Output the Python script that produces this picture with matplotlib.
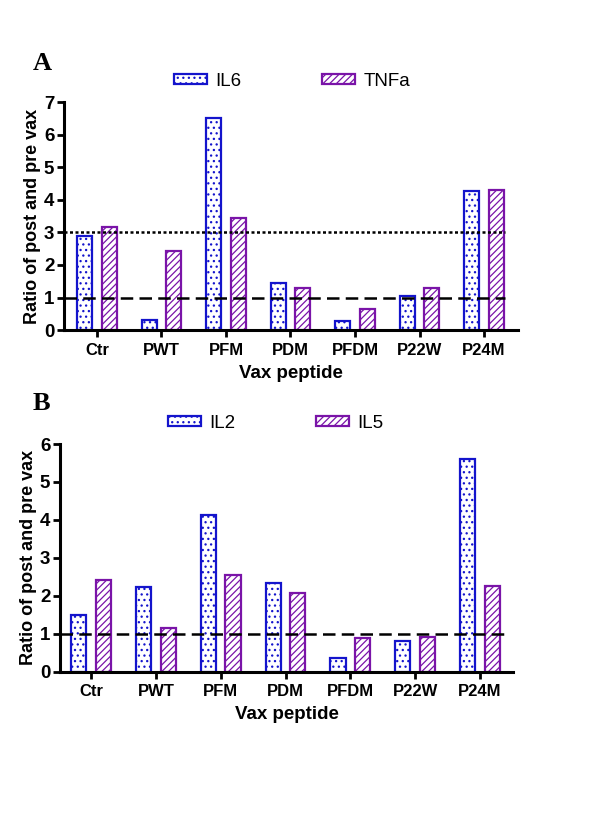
import numpy as np
import matplotlib
matplotlib.use('Agg')
from matplotlib import pyplot as plt

peptides = ['Ctr', 'PWT', 'PFM', 'PDM', 'PFDM', 'P22W', 'P24M']

# panel A
il6 = [2.88, 0.31, 6.51, 1.45, 0.29, 1.05, 4.26]
tnfa = [3.17, 2.43, 3.44, 1.30, 0.64, 1.28, 4.30]

# panel B
il2 = [1.50, 2.23, 4.13, 2.33, 0.35, 0.82, 5.61]
il5 = [2.42, 1.14, 2.54, 2.08, 0.88, 0.91, 2.27]

BLUE = '#1414cc'
PURPLE = '#7a14a8'

plt.rcParams['font.family'] = ['Liberation Sans', 'DejaVu Sans']
plt.rcParams['hatch.linewidth'] = 0.9

fig = plt.figure(figsize=(6, 8.4), dpi=100)


def panel(ax, s1, s2, names, ymax, xlim, lines, letter, letter_y, leg_y, leg_x):
    x = np.arange(len(peptides))
    w = 0.235
    b1 = ax.bar(x - 0.19, s1, w, facecolor='white', edgecolor=BLUE, hatch='...',
                linewidth=1.6, label=names[0], zorder=2)
    b2 = ax.bar(x + 0.19, s2, w, facecolor='white', edgecolor=PURPLE, hatch='/////',
                linewidth=1.6, label=names[1], zorder=2)
    for yv, ls, xend in lines:
        ax.plot([xlim[0], xend], [yv, yv], color='black', linestyle=ls, lw=1.8, zorder=3)
    ax.set_xlim(*xlim)
    ax.set_ylim(0, ymax)
    ax.set_yticks(range(0, ymax + 1))
    ax.set_xticks(x)
    ax.set_xticklabels(peptides, fontweight='bold', fontsize=12)
    for t in ax.get_yticklabels():
        t.set_fontweight('bold')
        t.set_fontsize(13.5)
    ax.spines['top'].set_visible(False)
    ax.spines['right'].set_visible(False)
    ax.spines['left'].set_linewidth(2.2)
    ax.spines['bottom'].set_linewidth(2.2)
    ax.tick_params(axis='both', direction='out', width=2, length=5, pad=2)
    ax.tick_params(axis='x', pad=4)
    ax.set_xlabel('Vax peptide', fontweight='bold', fontsize=13.5, labelpad=5)
    ax.set_ylabel('Ratio of post and pre vax', fontweight='bold', fontsize=13, labelpad=2)
    fig.text(0.055, letter_y, letter, family='Liberation Serif', fontweight='bold',
             fontsize=19, ha='left', va='center')
    fig.legend(handles=[b1, b2], loc='center left', bbox_to_anchor=(leg_x, leg_y),
               ncol=2, frameon=False, borderpad=0, borderaxespad=0,
               handlelength=1.75, handleheight=0.5, handletextpad=0.45,
               columnspacing=4.3, fontsize=13.5)


axA = fig.add_axes([0.1067, 0.607, 0.757, 0.2714])
panel(axA, il6, tnfa, ['IL6', 'TNFa'], 7, (-0.51, 6.53),
      [(3, (0, (1.2, 1.0)), 6.33), (1, (0, (5, 2.5)), 6.33)],
      'A', 1 - 63 / 840, 1 - 81 / 840, 0.29)

axB = fig.add_axes([0.1, 0.2004, 0.755, 0.271])
panel(axB, il2, il5, ['IL2', 'IL5'], 6, (-0.48, 6.51),
      [(1, (0, (5, 2.5)), 6.46)],
      'B', 1 - 403 / 840, 1 - 423 / 840, 0.28)

fig.savefig('out.png', dpi=100)
